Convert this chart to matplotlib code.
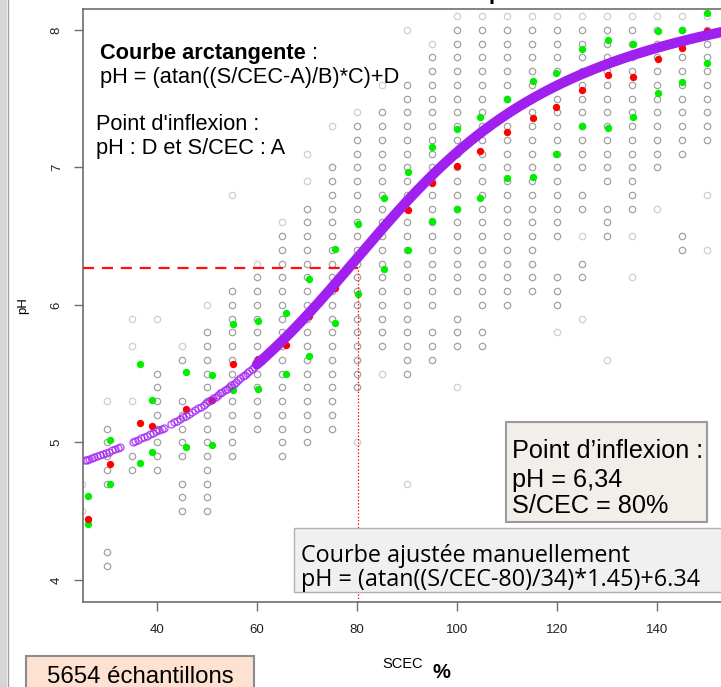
import numpy as np
import matplotlib
matplotlib.use("Agg")
import matplotlib.pyplot as plt
from matplotlib.patches import Rectangle

W, H = 721, 687
NARROW = ["Liberation Sans Narrow", "Liberation Sans", "DejaVu Sans"]
ARIAL = ["Liberation Sans", "DejaVu Sans"]
CALIB = ["Open Sans", "Lato", "DejaVu Sans"]

# grey open circles: for each S/CEC class, runs of pH (in tenths, top -> bottom)
gray_runs = {
    25: [(47, 47), (45, 45)],
    30: [(53, 53), (51, 47), (42, 41)],
    35: [(59, 59), (57, 57), (53, 53), (49, 48)],
    40: [(59, 59), (55, 48)],
    45: [(57, 56), (53, 49), (47, 45)],
    50: [(60, 60), (58, 45)],
    55: [(68, 68), (61, 49)],
    60: [(63, 51)],
    65: [(66, 49)],
    70: [(71, 71), (69, 69), (67, 50)],
    75: [(73, 73), (70, 51)],
    80: [(74, 54), (50, 50)],
    85: [(76, 76), (74, 57), (55, 55)],
    90: [(80, 80), (76, 55), (47, 47)],
    95: [(79, 60), (58, 56)],
    100: [(81, 61), (59, 57), (54, 54)],
    105: [(81, 60), (58, 57)],
    110: [(81, 60)],
    115: [(81, 61)],
    120: [(81, 65), (62, 60), (58, 58)],
    125: [(81, 70), (68, 67), (65, 65), (63, 62), (59, 59)],
    130: [(81, 69), (67, 65), (56, 56)],
    135: [(81, 67), (65, 65), (62, 62)],
    140: [(81, 70), (67, 67)],
    145: [(81, 71), (65, 64)],
    150: [(81, 72), (68, 68), (64, 64)],
}

# quartiles (green) and median (red) per class
q_S = [26.1, 30.5, 36.5, 38.9, 45.8, 51.0, 55.1, 60.1, 65.7, 70.4, 75.6, 80.1, 85.3,
       90.1, 95.0, 99.9, 104.5, 110.0, 115.1, 119.7, 124.9, 130.1, 135.2, 140.1, 144.9, 150.0]
green_hi = [4.61, 5.02, 5.57, 5.31, 5.51, 5.49, 5.86, 5.88, 5.94, 6.19, 6.41, 6.59, 6.78,
            6.97, 7.15, 7.28, 7.37, 7.50, 7.63, 7.69, 7.86, 7.93, 7.90, 7.99, 8.00, 8.12]
green_lo = [4.41, 4.70, 4.85, 4.93, 4.97, 4.98, 5.38, 5.39, 5.50, 5.63, 5.87, 6.08, 6.26,
            6.40, 6.61, 6.70, 6.78, 6.92, 6.93, 7.10, 7.30, 7.29, 7.37, 7.54, 7.62, 7.76]
red_mid = [4.44, 4.84, 5.14, 5.12, 5.24, 5.31, 5.57, 5.61, 5.71, 5.92, 6.12, None, None,
           6.69, 6.89, 7.01, 7.12, 7.26, 7.36, 7.44, 7.56, 7.67, 7.66, 7.79, 7.87, 7.99]

# fitted curve (values printed on the chart)
A, B, C, D = 80, 34, 1.45, 6.34
purple_open_S = [25.5, 25.9, 26.4, 26.9, 27.4, 28.0, 28.6, 29.2, 29.8, 30.4, 31.0, 31.6, 32.1, 32.6,
                 35.1, 35.6, 36.2, 36.8, 37.4, 38.0, 38.6, 39.2, 39.8, 40.4, 40.9, 41.3,
                 42.8, 43.3, 43.9, 44.5, 45.1, 45.7, 46.3, 46.9, 47.5, 48.1, 48.7, 49.3, 49.8,
                 50.3, 50.8, 51.2, 51.7, 52.1, 52.6, 53.0, 53.5, 53.9, 54.4, 54.8, 55.3, 55.7,
                 56.2, 56.6, 57.1, 57.5, 58.0, 58.4, 58.9, 59.3, 59.8, 60.2, 60.7, 61.1, 61.6]
band_S = (60.0, 160.0)

inflex_S, inflex_pH = 80.2, 6.27

fig = plt.figure(figsize=(W / 100, H / 100), dpi=100)
ax = fig.add_axes([83 / W, 85 / H, 674 / W, 593 / H])
ax.set_xlim(25.2, 160.0)
ax.set_ylim(3.84, 8.1527)


def atan_curve(s):
    return np.arctan((np.asarray(s) - A) / B) * C + D


# grey samples
for s, runs in gray_runs.items():
    vals = []
    for top, bot in runs:
        vals += list(range(top, bot - 1, -1))
    vset = set(vals)
    for v in vals:
        alone = (v + 1 not in vset) and (v - 1 not in vset)
        col = "#cfcfcf" if (alone or v == max(vals)) else "#a2a2a2"
        ax.plot(s, v / 10, "o", ms=4.6, mfc="none", mec=col, mew=0.9, zorder=2)

ax.plot(q_S, green_hi, "o", ms=5.3, color="#00ee00", mec="none", zorder=3)
ax.plot(q_S, green_lo, "o", ms=5.3, color="#00ee00", mec="none", zorder=3)
red_y = [np.nan if v is None else v for v in red_mid]
ax.plot(q_S, red_y, "o", ms=5.3, color="#ff0000", mec="none", zorder=3)

# inflexion guide lines
ax.plot([25.2, inflex_S], [inflex_pH, inflex_pH], color="#ff1010", lw=1.6,
        dashes=(5, 3.5), zorder=3.5)
ax.plot([inflex_S, inflex_S], [3.84, inflex_pH], color="#ff1010", lw=0.9,
        dashes=(1.2, 1.5), zorder=3.5)

# curve: open circles on the left, dense band on the right
ax.plot(purple_open_S, atan_curve(purple_open_S), "o", ms=5.0, mfc="none",
        mec="#A020F0", mew=1.0, alpha=0.75, zorder=4)
xs = np.linspace(band_S[0], band_S[1], 400)
ax.plot(xs, atan_curve(xs), color="#A020F0", lw=7.3, solid_capstyle="round", zorder=4)

# axes styling
for side in ["left", "bottom", "top"]:
    ax.spines[side].set_color("#6e6e6e")
    ax.spines[side].set_linewidth(1.2)
ax.spines["right"].set_visible(False)
ax.set_xticks([40, 60, 80, 100, 120, 140])
ax.set_yticks([4, 5, 6, 7, 8])
ax.tick_params(length=6.5, width=1.0, color="#6e6e6e", labelsize=9.5,
               labelcolor="#222222")
ax.tick_params(axis="x", pad=9)
ax.tick_params(axis="y", pad=8)
for lab in ax.get_xticklabels() + ax.get_yticklabels():
    lab.set_family(ARIAL)
for lab in ax.get_yticklabels():
    lab.set_rotation(90)
    lab.set_va("center")


def fx(x):
    return x / W


def fy(y):
    return 1 - y / H


# left frame band
fig.add_artist(Rectangle((0, 0), fx(7), 1, transform=fig.transFigure,
                         facecolor="#d6d6d6", edgecolor="none", zorder=0))
fig.add_artist(plt.Line2D([fx(7.5), fx(7.5)], [0, 1], transform=fig.transFigure,
                          color="#a0a0a0", lw=1.0))

# cropped title descender
fig.text(fx(489), fy(-1.5), "p", fontsize=16, fontweight="bold", family=ARIAL,
         va="baseline")

# axis labels
fig.text(fx(23), fy(306), "pH", rotation=90, fontsize=9.5, family=ARIAL,
         ha="center", va="center")
fig.text(fx(382), fy(668), "SCEC", fontsize=10.5, family=ARIAL, va="baseline")
fig.text(fx(433), fy(678), "%", fontsize=14.5, fontweight="bold", family=ARIAL,
         va="baseline")

# annotations top-left
t1 = fig.text(fx(100), fy(59.3), "Courbe arctangente", fontsize=15.7,
              fontweight="bold", family=NARROW, va="baseline")
fig.canvas.draw()
bb = t1.get_window_extent()
fig.text(bb.x1 / W, fy(59.3), " :", fontsize=15.7, family=NARROW, va="baseline")
fig.text(fx(100), fy(82.5), "pH = (atan((S/CEC-A)/B)*C)+D", fontsize=15.7,
         family=NARROW, va="baseline")
fig.text(fx(96), fy(130), "Point d'inflexion :", fontsize=15.7, family=NARROW,
         va="baseline")
fig.text(fx(96), fy(154), "pH : D et S/CEC : A", fontsize=15.7, family=NARROW,
         va="baseline")

# inflexion box
fig.add_artist(Rectangle((fx(506), fy(522)), fx(201), 100 / H, transform=fig.transFigure,
                         facecolor="#f2eee9", edgecolor="#9a9a9a", lw=1.5, zorder=5))
for txt, yb in [("Point d\u2019inflexion :", 458.3), ("pH = 6,34", 486.7),
                ("S/CEC = 80%", 513.3)]:
    fig.text(fx(512), fy(yb), txt, fontsize=18.2, family=NARROW, va="baseline", zorder=6)

# manual fit box
fig.add_artist(Rectangle((fx(294), fy(592)), fx(460), 64 / H, transform=fig.transFigure,
                         facecolor="#f0f0f0", edgecolor="#b0b0b0", lw=1.0, zorder=5))
fig.text(fx(301), fy(562), "Courbe ajustée manuellement", fontsize=16.8,
         family=CALIB, va="baseline", zorder=6)
fig.text(fx(301), fy(586), "pH = (atan((S/CEC-80)/34)*1.45)+6.34", fontsize=16.8,
         family=CALIB, va="baseline", zorder=6)

# sample count box
fig.add_artist(Rectangle((fx(26), fy(700)), fx(228), 44.3 / H, transform=fig.transFigure,
                         facecolor="#fde2d2", edgecolor="#8c8c8c", lw=1.5, zorder=5))
fig.text(fx(140), fy(683), "5654 échantillons", fontsize=17.3, family=NARROW,
         ha="center", va="baseline", zorder=6)

fig.savefig("out.png", dpi=100)
